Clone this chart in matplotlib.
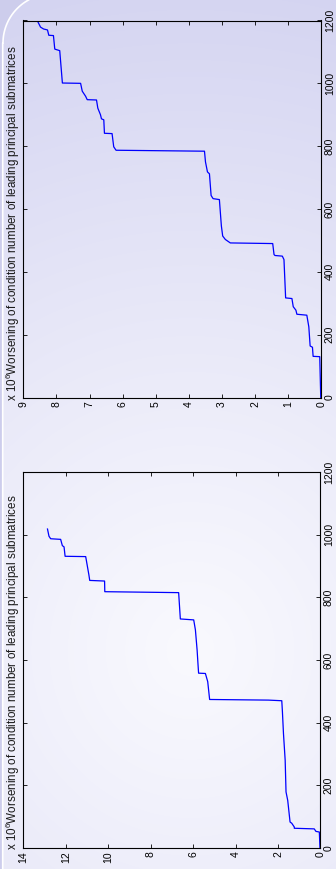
import matplotlib
matplotlib.use('Agg')
import matplotlib.pyplot as plt
import numpy as np

plt.rcParams['font.family'] = ['Liberation Sans', 'DejaVu Sans']
plt.rcParams['mathtext.default'] = 'regular'

# upper panel (right plot in the original slide): index vs worsening (x 10^6)
idx_a = [0, 130, 131, 160, 164, 225, 262, 265, 278, 289, 315, 317, 439, 450, 452,
         455, 490, 492, 503, 514, 546, 630, 633, 643, 712, 718, 750, 784, 787, 798,
         840, 841, 884, 887, 900, 921, 947, 948, 959, 975, 1000, 1001, 1104, 1109,
         1152, 1153, 1170, 1173, 1179, 1200]
val_a = [0.02, 0.05, 0.25, 0.27, 0.34, 0.38, 0.44, 0.74, 0.77, 0.85, 0.89, 1.08, 1.13,
         1.18, 1.40, 1.43, 1.47, 2.75, 2.90, 2.98, 3.02, 3.08, 3.27, 3.33, 3.38, 3.44,
         3.50, 3.53, 6.20, 6.27, 6.32, 6.55, 6.57, 6.64, 6.67, 6.75, 6.79, 7.07, 7.12,
         7.22, 7.27, 7.82, 7.90, 8.05, 8.09, 8.23, 8.27, 8.39, 8.48, 8.58]

# lower panel (left plot in the original slide)
idx_b = [0, 51, 53, 61, 63, 67, 79, 83, 152, 179, 280, 365, 435, 470, 472, 474, 531,
         557, 558, 589, 632, 696, 728, 731, 815, 818, 852, 854, 872, 899, 930, 931,
         961, 965, 985, 987, 995, 1018]
val_b = [0.02, 0.05, 0.21, 0.29, 1.23, 1.23, 1.35, 1.43, 1.54, 1.62, 1.66, 1.74, 1.79,
         1.82, 2.45, 5.22, 5.31, 5.42, 5.74, 5.77, 5.81, 5.89, 5.97, 6.60, 6.68, 10.16,
         10.17, 10.87, 10.91, 10.98, 11.06, 12.03, 12.08, 12.16, 12.24, 12.71, 12.79, 12.86]

title = 'x 10$^{6}$Worsening of condition number of leading principal submatrices'

W, H = 336, 869
fig = plt.figure(figsize=(W / 100, H / 100), dpi=100)

# slide background: lavender with a lighter patch
bg = fig.add_axes([0, 0, 1, 1])
yy, xx = np.mgrid[0:H, 0:W]
d = np.sqrt((xx - 190) ** 2 + ((yy - 650) * 0.95) ** 2)
t = np.clip(d / 640, 0, 1) ** 1.1
light = np.array([249, 249, 254]) / 255
lav = np.array([212, 212, 241]) / 255
img = light[None, None, :] * (1 - t[..., None]) + lav[None, None, :] * t[..., None]
bg.imshow(img, extent=(0, W, H, 0), aspect='auto')
th = np.linspace(0, np.arcsin(43 / 49), 40)
arc_x = 52 - 49 * np.cos(th)
arc_y = 43 - 49 * np.sin(th)
edge_x = np.concatenate([[2.7, 2.7], arc_x])
edge_y = np.concatenate([[H, 43], arc_y])
bg.fill(np.concatenate([[0], edge_x, [0]]), np.concatenate([[H], edge_y, [0]]),
        color=(205 / 255, 205 / 255, 236 / 255), lw=0)
bg.plot(edge_x, edge_y, color='white', lw=1.2)
bg.set_xlim(0, W)
bg.set_ylim(H, 0)
bg.axis('off')


def panel(rect, idx, val, vmax, vstep, title_y):
    ax = fig.add_axes(rect)
    ax.patch.set_alpha(0)
    ax.plot(val, idx, color='#0000ff', lw=0.9)
    ax.set_xlim(vmax, 0)
    ax.set_ylim(0, 1200)
    ax.set_xticks(np.arange(0, vmax + 1, vstep))
    ax.set_yticks(np.arange(0, 1201, 200))
    ax.tick_params(direction='in', length=3, width=0.6, top=True, right=True,
                   left=True, bottom=True, labelleft=False, labelright=True,
                   labelsize=7.5, pad=2.5, colors='black')
    for lab in ax.get_xticklabels() + ax.get_yticklabels():
        lab.set_rotation(90)
    for lab in ax.get_yticklabels():
        lab.set_va('center')
    for s in ax.spines.values():
        s.set_linewidth(0.8)
    fig.text(22 / W, 1 - title_y / H, title, rotation=90, ha='right', va='bottom',
             fontsize=8.4, color='#1a1a1a')
    return ax


panel([23.3 / W, 1 - 397.5 / H, 298.1 / W, 377 / H], idx_a, val_a, 9, 1, 401)
panel([23.3 / W, 1 - 848 / H, 297.1 / W, 376 / H], idx_b, val_b, 14, 2, 850)

fig.savefig('out.png', dpi=100)
